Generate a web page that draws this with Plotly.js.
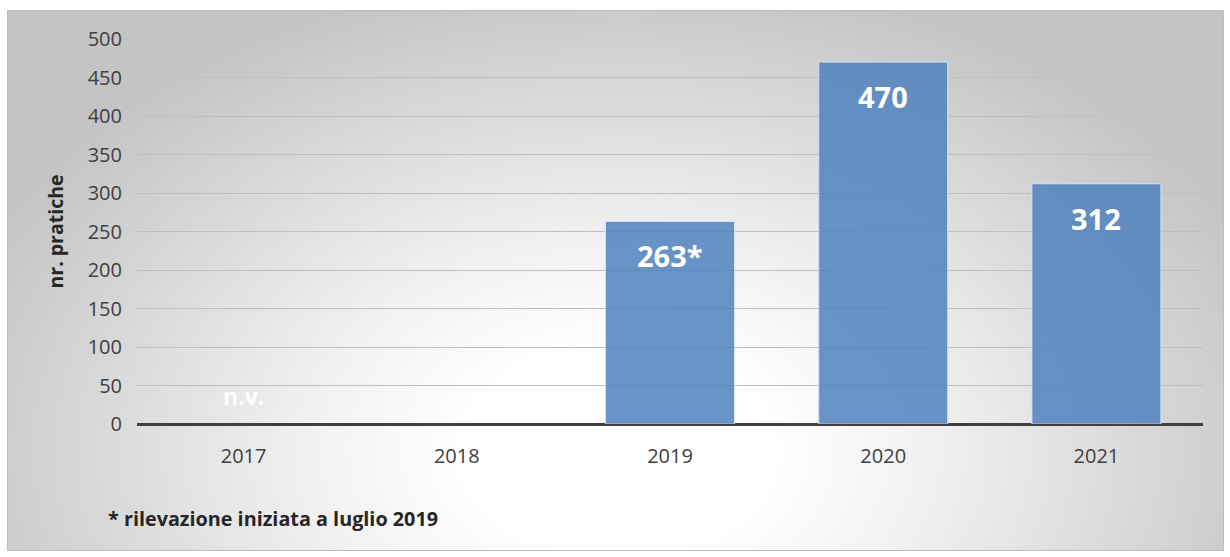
<!DOCTYPE html>
<html>
<head>
<meta charset="utf-8">
<script src="https://cdn.plot.ly/plotly-3.0.1.min.js"></script>
<style>
  html, body { margin: 0; padding: 0; background: #ffffff; }
  #wrap { position: relative; width: 1230px; height: 557px; overflow: hidden; background: #ffffff; }
  #bg { position: absolute; left: 7px; top: 10px; width: 1217px; height: 541px;
        background: radial-gradient(ellipse 700px 480px at 610px 440px, #ffffff 0%, #ffffff 22%, #eeeeee 48%, #d8d8d8 75%, #c4c4c4 100%);
        box-sizing: border-box; border: 1px solid #bdbdbd; }
  #chart { position: absolute; left: 0; top: 0; width: 1230px; height: 557px; }
</style>
</head>
<body>
<div id="wrap">
  <div id="bg"></div>
  <div id="chart"></div>
</div>
<script>
const years = ['2017', '2018', '2019', '2020', '2021'];
const pratiche = [null, null, 263, 470, 312];
const labels = ['n.v.', '', '263*', '470', '312'];
const yTicks = [0, 50, 100, 150, 200, 250, 300, 350, 400, 450, 500];
const yTitle = 'nr. pratiche';
const footnote = '* rilevazione iniziata a luglio 2019';

const annotations = [];
years.forEach((yr, i) => {
  if (!labels[i]) return;
  const v = pratiche[i];
  annotations.push({
    x: i, y: v === null ? 0 : v, xref: 'x', yref: 'y',
    text: '<b>' + labels[i] + '</b>', showarrow: false,
    yanchor: v === null ? 'bottom' : 'top',
    yshift: v === null ? 10 : -13,
    font: { family: 'Open Sans, sans-serif', size: v === null ? 23 : 29, color: '#ffffff' }
  });
});
annotations.push({
  xref: 'paper', yref: 'paper', x: -0.029, y: -0.245, xanchor: 'left', yanchor: 'middle',
  text: '<b>' + footnote + '</b>', showarrow: false,
  font: { family: 'Open Sans, sans-serif', size: 19.8, color: '#262626' }
});

const trace = {
  type: 'bar', x: years.map((y, i) => i), y: pratiche,
  marker: { color: 'rgba(79,129,189,0.85)', line: { color: 'rgba(220,230,242,0.9)', width: 1 } },
  hoverinfo: 'skip'
};

const layout = {
  width: 1230, height: 557,
  margin: { l: 137, r: 27, t: 39, b: 133 },
  paper_bgcolor: 'rgba(0,0,0,0)', plot_bgcolor: 'rgba(0,0,0,0)',
  bargap: 0.395,
  showlegend: false,
  font: { family: 'Open Sans, sans-serif', color: '#404040' },
  xaxis: {
    type: 'linear', range: [-0.5, years.length - 0.5],
    tickvals: years.map((y, i) => i), ticktext: years,
    showgrid: false, zeroline: false, showline: false,
    ticks: '', tickfont: { size: 20, color: '#404040' }, ticklabelstandoff: 18
  },
  yaxis: {
    range: [0, 500], tickvals: yTicks, ticktext: yTicks.map(String),
    showgrid: true, gridcolor: '#bfbfbf', gridwidth: 1,
    zeroline: true, zerolinecolor: '#404040', zerolinewidth: 3,
    showline: false, ticks: '', tickfont: { size: 20, color: '#404040' },
    ticklabelstandoff: 14,
    title: { text: '<b>' + yTitle + '</b>', font: { size: 19.5, color: '#262626' }, standoff: 18 }
  },
  annotations: annotations
};

Plotly.newPlot('chart', [trace], layout, { displayModeBar: false, staticPlot: true });
</script>
</body>
</html>
